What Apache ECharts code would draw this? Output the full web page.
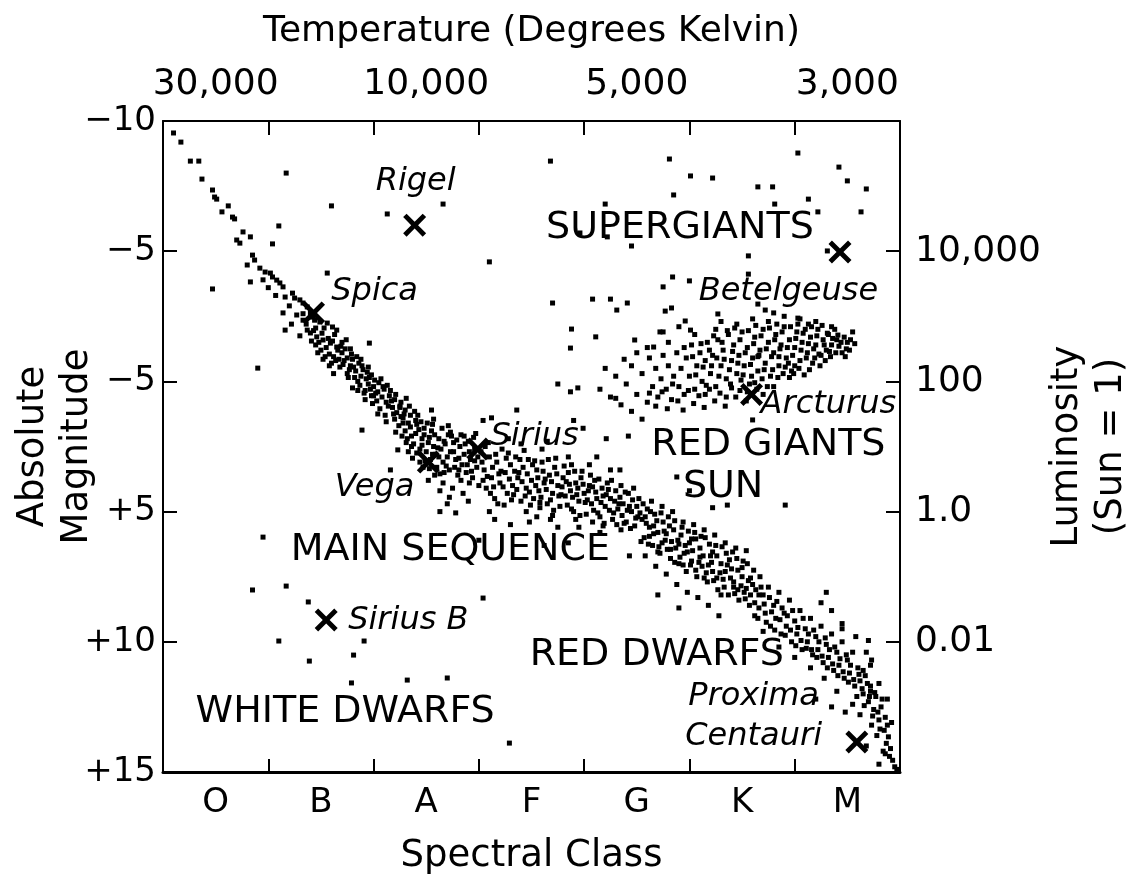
<!DOCTYPE html>
<html><head><meta charset="utf-8">
<script src="https://cdn.jsdelivr.net/npm/echarts/dist/echarts.min.js"></script>
<style>html,body{margin:0;padding:0;background:#fff}#chart{width:1133px;height:877px}</style>
</head><body><div id="chart"></div>
<script>
const spectralClasses = ['O','B','A','F','G','K','M'];
const temperatureLabels = ['30,000','','10,000','','5,000','','3,000'];
const magnitudeLabels = {'-10':'\u221210','-5':'\u22125','0':'\u22125','5':'+5','10':'+10','15':'+15'};
const luminosityLabels = {'-5':'10,000','0':'100','5':'1.0','10':'0.01'};

// [spectral position, absolute magnitude]
const upperMainSequence = [
[0.10,-9.54],[0.17,-9.19],[0.26,-8.46],[0.34,-8.46],[0.37,-7.77],[0.47,-7.35],[0.49,-7.08],[0.51,-7.00],
[0.62,-6.74],[0.56,-6.51],[0.66,-6.31],[0.68,-6.24],[0.76,-5.74],[0.70,-5.43],[0.73,-5.31],[0.83,-5.55],
[0.85,-4.85],[0.87,-4.66],[0.80,-4.47],[0.83,-3.82],[0.92,-4.35],[0.97,-4.20],[1.02,-4.16],[1.04,-4.01],
[1.08,-3.89],[1.11,-3.78],[1.14,-3.63],[1.16,-3.24],[1.23,-3.39],[1.25,-3.20],[1.30,-3.13],[1.33,-3.01],
[1.37,-2.86],[1.40,-2.63],[1.42,-2.47],[1.49,-2.28],[1.56,-2.24],[1.61,-2.09],[1.65,-1.97],[1.14,-2.63],
[1.16,-1.97],[1.37,-1.97],[1.40,-1.86],[1.46,-1.71],[1.52,-1.59],[1.59,-1.47],[1.65,-1.32],[1.20,-2.90],
[1.27,-2.55],[1.33,-2.35],[1.22,-2.20],[1.45,-2.05],[1.30,-1.75],[0.95,-3.90],[1.00,-3.60],[1.07,-3.30]
];
const midMainSequence = [
[1.45,-1.40],[1.50,-1.20],[1.55,-1.30],[1.58,-1.05],[1.62,-0.95],[1.66,-1.20],[1.70,-1.10],[1.72,-0.80],
[1.75,-0.90],[1.60,-0.70],[1.68,-0.55],[1.78,-0.60],[1.80,-0.85],[1.83,-0.40],[1.86,-0.70],[1.88,-0.20],
[1.90,-0.45],[1.93,-0.10],[1.95,0.10],[1.98,-0.25],[2.00,0.20],[2.02,0.45],[2.05,0.05],[2.08,0.60],
[2.10,0.30],[2.12,0.80],[2.15,0.55],[2.18,1.00],[2.20,0.70],[2.22,1.20],[2.25,0.95],[2.28,1.40],
[2.30,1.10],[2.33,1.60],[2.35,1.30],[1.75,-0.30],[1.85,0.00],[1.92,0.35],[2.03,0.75],[1.70,-1.50],
[1.78,-1.25],[1.52,-0.85],[1.95,-0.55],[2.13,0.15],[2.40,1.50],[1.62,-0.30],[1.80,0.25],[1.98,0.55],
[2.25,1.00],[2.28,1.60],[2.30,1.90],[2.32,2.20],[2.35,1.75],[2.38,2.40],[2.40,2.00],[2.42,1.30],
[2.44,2.60],[2.46,2.20],[2.48,1.80],[2.50,2.70],[2.52,2.35],[2.54,3.00],[2.55,1.90],[2.57,2.50],
[2.59,2.80],[2.60,3.30],[2.62,2.20],[2.64,2.60],[2.66,3.10],[2.68,2.40],[2.70,2.90],[2.72,3.40],
[2.74,2.10],[2.76,2.70],[2.78,3.00],[2.80,3.60],[2.82,2.50],[2.84,3.20],[2.86,2.80],[2.88,3.50],
[2.90,2.30],[2.92,3.00],[2.94,3.70],[2.96,2.60],[2.98,3.30],[3.00,4.00],[2.37,2.95],[2.47,3.30],
[2.58,3.60],[2.66,3.90],[2.75,4.10],[2.85,4.30],[2.45,1.55],[2.56,1.65],[2.65,1.80],[2.73,1.95],
[2.83,2.05],[2.20,1.45],[2.33,2.70],[2.27,2.10],[2.63,4.20],[2.72,4.45],[2.52,3.80],[2.78,5.05],
[2.63,5.00],[2.70,4.70],[2.90,4.60],[2.97,2.00],[2.55,1.10]
];
const midMainSequenceExtra = [
[1.33,-2.60],[1.36,-2.20],[1.41,-1.55],[1.44,-2.35],[1.47,-1.10],[1.51,-1.85],[1.54,-0.95],[1.57,-1.65],
[1.63,-1.80],[1.64,-0.80],[1.69,-1.35],[1.71,-0.65],[1.74,-1.60],[1.77,-0.45],[1.79,-1.05],[1.82,-0.15],
[1.84,-0.95],[1.87,0.15],[1.89,-0.60],[1.91,0.45],[1.94,-0.35],[1.97,0.30],[1.99,0.85],[2.01,-0.05],
[2.04,0.40],[2.06,1.05],[2.09,0.20],[2.11,1.30],[2.14,0.95],[2.16,0.35],[2.19,1.25],[2.21,0.50],
[2.24,1.70],[2.26,0.80],[2.29,1.25],[2.31,2.35],[2.34,0.95],[2.36,2.10],[2.39,1.15],[2.41,2.75],
[2.43,1.85],[2.46,2.45],[2.49,3.05],[2.51,1.60],[2.53,2.15],[2.56,2.80],[2.58,2.05],[2.61,2.55],
[2.63,3.55],[2.67,2.30],[2.69,3.25],[2.71,2.05],[2.73,2.70],[2.77,3.30],[2.79,2.25],[2.81,2.95],
[2.83,3.80],[2.87,2.40],[2.89,3.20],[2.91,2.70],[2.93,3.45],[2.95,2.15],[2.99,2.90],
[1.43,-1.95],[1.48,-1.50],[1.53,-2.05],[1.58,-0.60],[1.61,-1.55],[1.67,-0.85],[1.73,-1.25],[1.76,-0.15],
[1.81,-0.55],[1.85,0.35],[1.88,-0.85],[1.92,0.70],[1.96,-0.15],[2.00,0.55],[2.04,1.25],[2.07,-0.10],
[2.12,1.55],[2.17,0.75],[2.21,1.95],[2.26,1.35],[2.31,0.65],[2.36,2.50],[2.41,1.65],[2.44,3.10],
[2.48,2.05],[2.53,3.35],[2.57,1.45],[2.62,2.90],[2.67,3.50],[2.71,1.70],[2.76,2.35],[2.81,3.40],
[2.86,2.10],[2.91,3.90],[2.96,3.05]
];
const lowerMainSequence = [
[3.02,2.70],[3.05,3.40],[3.07,4.10],[3.10,2.90],[3.12,3.70],[3.15,4.50],[3.17,3.10],[3.20,3.90],
[3.22,2.60],[3.25,3.50],[3.27,4.30],[3.30,3.20],[3.32,4.00],[3.35,2.90],[3.37,3.70],[3.40,4.60],
[3.42,3.30],[3.45,4.10],[3.47,3.00],[3.50,3.80],[3.52,4.50],[3.55,3.40],[3.57,4.20],[3.60,3.10],
[3.62,3.90],[3.65,4.70],[3.67,3.60],[3.70,4.30],[3.72,3.30],[3.75,4.00],[3.77,4.80],[3.80,3.70],
[3.82,4.40],[3.85,3.50],[3.87,4.20],[3.90,5.00],[3.92,3.90],[3.95,4.60],[3.97,3.70],[4.00,4.30],
[4.02,5.10],[4.05,4.00],[4.07,4.70],[4.10,3.80],[4.12,4.50],[4.15,5.20],[4.17,4.10],[4.20,4.80],
[4.22,3.90],[4.25,4.50],[4.27,5.30],[4.30,4.20],[4.32,4.90],[4.35,4.00],[4.37,4.70],[4.40,5.40],
[4.42,4.30],[4.45,5.00],[4.47,4.10],[4.50,4.80],[3.15,5.30],[3.30,5.50],[3.55,5.20],[3.75,5.60],
[3.40,2.40],[3.60,2.60],[3.85,2.90],[4.05,3.20],[4.25,3.40],[3.10,5.00],[3.48,5.40],[3.95,5.60],
[4.15,5.80],[3.70,5.15],[4.08,5.40],[3.28,2.20],[3.65,2.30],[4.35,5.70],[3.58,4.85],[3.88,3.20],
[4.52,4.50],[4.55,5.30],[4.57,6.00],[4.60,4.90],[4.62,5.60],[4.65,6.30],[4.67,5.10],[4.70,5.80],
[4.72,6.60],[4.75,5.40],[4.77,6.10],[4.80,5.20],[4.82,6.80],[4.85,5.70],[4.87,6.40],[4.90,7.00],
[4.92,5.90],[4.95,6.60],[4.97,7.30],[5.00,6.20],[5.02,6.90],[5.05,5.80],[5.07,7.50],[5.10,6.40],
[5.12,7.10],[5.15,6.00],[5.17,7.70],[5.20,6.70],[5.22,7.30],[5.25,6.30],[5.27,8.00],[5.30,7.00],
[5.32,7.60],[5.35,6.60],[5.37,8.20],[5.40,7.20],[5.42,7.90],[5.45,6.80],[5.47,8.40],[5.50,7.50],
[5.52,8.10],[5.55,7.00],[5.57,8.60],[4.58,6.70],[4.68,7.10],[4.78,7.40],[4.88,7.80],[4.98,8.10],
[5.08,8.30],[5.18,8.60],[4.64,4.60],[4.74,4.80],[4.84,5.00],[4.94,5.40],[5.04,5.50],[5.14,5.70],
[5.24,5.90],[5.34,6.20],[5.44,6.40],[5.54,6.50],[4.70,8.20],[4.90,8.70],[5.28,9.00],[5.00,4.20]
];
const lowerMainSequenceExtra = [
[3.03,3.10],[3.06,2.50],[3.08,3.65],[3.11,4.30],[3.13,3.30],[3.16,2.80],[3.18,4.70],[3.21,3.45],
[3.23,4.05],[3.26,2.95],[3.29,3.75],[3.31,4.55],[3.34,3.45],[3.36,4.15],[3.39,3.00],[3.41,3.85],
[3.44,4.40],[3.46,3.55],[3.49,4.75],[3.51,3.20],[3.54,4.00],[3.56,3.70],[3.59,4.45],[3.61,3.45],
[3.64,4.15],[3.66,3.00],[3.69,3.85],[3.71,4.95],[3.74,3.55],[3.76,4.40],[3.79,4.05],[3.81,3.25],
[3.84,4.75],[3.86,3.95],[3.89,4.45],[3.91,3.45],[3.94,4.10],[3.96,5.15],[3.99,3.95],[4.01,4.65],
[4.04,4.20],[4.06,3.60],[4.09,4.95],[4.11,4.25],[4.14,3.75],[4.16,4.65],[4.19,5.45],[4.21,4.35],
[4.24,4.95],[4.26,3.80],[4.29,4.60],[4.31,5.50],[4.34,4.45],[4.36,5.15],[4.39,4.25],[4.41,4.95],
[4.44,5.65],[4.46,4.55],[4.49,5.25],[3.45,5.00],[3.68,5.30],[3.92,5.30],[4.18,5.55],
[4.53,5.05],[4.56,4.70],[4.59,5.45],[4.61,6.25],[4.63,5.00],[4.66,5.85],[4.69,5.35],[4.71,6.35],
[4.73,5.05],[4.76,5.75],[4.79,6.45],[4.81,5.55],[4.83,6.15],[4.86,5.35],[4.89,6.10],[4.91,6.75],
[4.93,5.60],[4.96,6.30],[4.99,5.75],[5.01,7.05],[5.03,6.50],[5.06,6.05],[5.09,6.95],[5.11,5.95],
[5.13,6.70],[5.16,7.35],[5.19,6.25],[5.21,6.95],[5.23,7.65],[5.26,6.70],[5.29,7.35],[5.31,6.35],
[5.33,7.90],[5.36,7.05],[5.39,7.55],[5.41,6.55],[5.43,8.15],[5.46,7.25],[5.49,7.85],[5.51,6.90],
[5.53,8.35],[5.56,7.65],[5.58,8.20],
[3.04,3.80],[3.09,2.35],[3.14,4.05],[3.19,3.55],[3.24,4.75],[3.28,2.75],[3.33,4.35],[3.38,3.50],
[3.43,2.65],[3.48,4.25],[3.53,3.05],[3.58,4.65],[3.63,3.75],[3.68,4.55],[3.73,2.95],[3.78,4.35],
[3.83,3.85],[3.88,4.90],[3.93,4.35],[3.98,3.45],[4.03,4.55],[4.08,4.05],[4.13,5.05],[4.18,4.40],
[4.23,4.15],[4.28,5.05],[4.33,4.70],[4.38,5.45],[4.43,4.80],[4.48,5.55],
[4.51,5.20],[4.54,6.15],[4.58,5.20],[4.62,5.95],[4.66,5.55],[4.70,6.55],[4.74,6.20],[4.78,5.85],
[4.82,6.45],[4.86,6.95],[4.90,6.25],[4.94,7.05],[4.98,6.55],[5.02,6.05],[5.06,7.25],[5.10,6.75],
[5.14,7.55],[5.18,7.05],[5.22,6.55],[5.26,7.55],[5.30,8.20],[5.34,7.30],[5.38,6.85],[5.42,7.70],
[5.46,8.00],[5.50,7.15],[5.54,7.95],[5.58,7.55],[5.62,9.00],[5.66,8.20]
];
const redDwarfs = [
[5.60,7.80],[5.62,8.50],[5.65,9.10],[5.67,7.50],[5.70,8.20],[5.72,8.90],[5.75,7.90],[5.77,9.40],
[5.80,8.60],[5.82,9.10],[5.85,8.10],[5.87,9.70],[5.90,8.90],[5.92,9.40],[5.95,8.40],[5.97,10.00],
[6.00,9.20],[6.02,9.70],[6.05,8.80],[6.07,10.30],[6.10,9.50],[6.12,10.00],[6.15,9.10],[6.17,10.50],
[6.20,9.80],[6.22,10.30],[6.25,9.40],[6.27,10.80],[6.30,10.10],[6.32,10.60],[6.35,9.70],[6.37,11.10],
[6.40,10.40],[6.42,10.90],[6.45,10.00],[6.47,11.40],[6.50,10.70],[6.52,11.20],[6.55,10.40],[6.57,11.70],
[6.60,11.00],[6.62,11.50],[6.65,12.00],[6.67,11.30],[6.70,12.30],[6.72,11.70],[6.75,12.60],[6.77,12.10],
[6.80,13.00],[6.82,12.50],[6.85,13.40],[6.87,13.90],[6.90,14.40],[6.84,14.20],[6.78,13.60],[6.73,13.20],
[6.68,14.00],[6.80,14.70],[6.92,13.10],[6.95,14.80],[5.85,10.20],[6.00,10.60],[6.15,11.00],[6.28,11.40],
[6.40,11.90],[6.55,12.40],[6.62,12.80],[5.70,9.60],[6.35,8.80],[6.45,9.30],[6.58,9.80],[6.68,10.40],
[6.72,10.90],[6.80,11.60],[6.88,12.20],[6.35,12.50],[6.48,12.70],[6.25,8.50],[6.20,12.20],[6.30,8.10],
[6.45,9.50],[6.70,9.95],[6.73,10.70],[6.65,11.10],[6.72,11.90],[6.88,13.20],[6.86,14.30],
[5.61,7.25],[5.63,8.00],[5.66,8.70],[5.68,7.90],[5.71,8.55],[5.73,9.25],[5.76,8.30],[5.78,8.85],
[5.81,9.55],[5.83,8.45],[5.86,9.15],[5.88,8.70],[5.91,9.75],[5.93,9.00],[5.96,9.55],[5.98,8.80],
[6.01,10.15],[6.03,9.45],[6.06,9.95],[6.08,9.10],[6.11,10.25],[6.13,9.70],[6.16,10.30],[6.18,9.55],
[6.21,10.60],[6.23,10.00],[6.26,10.55],[6.29,9.85],[6.31,11.00],[6.33,10.30],[6.36,10.85],[6.38,10.20],
[6.41,11.30],[6.43,10.65],[6.46,11.15],[6.49,10.50],[6.51,11.55],[6.53,10.90],[6.56,11.45],[6.59,12.10],
[6.61,11.25],[6.64,11.80],[6.66,12.45],[6.69,11.60],[6.71,12.10],[6.74,12.85],[6.76,11.95],[6.79,12.70],
[6.81,13.35],[6.83,12.20],[6.86,12.90],[6.89,13.65],[6.91,14.10],[6.93,14.55],[6.97,14.90]
];
const giants = [
[4.15,0.30],[4.20,-0.50],[4.25,0.60],[4.30,-0.20],[4.35,0.90],[4.40,0.10],[4.45,-0.60],[4.50,0.50],
[4.55,-0.30],[4.60,0.80],[4.62,-0.90],[4.65,0.20],[4.68,-0.50],[4.70,0.60],[4.73,-0.10],[4.75,-1.00],
[4.78,0.30],[4.80,-0.60],[4.83,0.70],[4.85,-0.20],[4.88,-1.10],[4.90,0.20],[4.92,-0.50],[4.95,0.50],
[4.97,-0.90],[5.00,-0.20],[5.02,-1.40],[5.05,0.30],[5.07,-0.60],[5.10,-1.10],[5.12,0.00],[5.15,-0.80],
[5.17,-1.50],[5.20,-0.30],[5.22,-1.00],[5.25,0.20],[5.27,-1.60],[5.30,-0.60],[5.32,-1.20],[5.35,-0.10],
[5.37,-1.80],[5.40,-0.80],[5.42,-1.40],[5.45,-0.30],[5.47,-1.00],[5.50,-1.90],[5.52,-0.60],[5.55,-1.30],
[5.57,0.10],[5.60,-0.90],[5.62,-1.70],[5.65,-0.40],[5.67,-1.20],[5.70,-2.00],[5.72,-0.70],[5.75,-1.50],
[5.77,-0.20],[5.80,-1.10],[5.82,-1.80],[5.85,-0.60],[5.87,-1.40],[5.90,-2.10],[5.92,-0.90],[5.95,-1.60],
[5.97,-0.40],[6.00,-1.30],[6.02,-1.90],[6.05,-0.80],[6.07,-1.50],[6.10,-2.00],[6.12,-1.10],[6.15,-1.70],
[6.17,-0.70],[6.20,-1.40],[6.22,-2.00],[6.25,-1.00],[6.27,-1.60],[6.30,-1.20],[6.32,-1.80],[6.35,-1.40],
[6.40,-1.60],[6.45,-1.10],[6.50,-1.50],[6.55,-1.90],[6.52,-1.20],[5.30,-2.30],[5.45,-2.20],[5.60,-2.40],
[5.75,-2.30],[5.90,-2.50],[6.05,-2.40],[6.20,-2.30],[6.35,-2.10],[5.15,0.50],[5.35,0.60],[5.55,0.40],
[5.80,0.20],[5.25,-2.00],[5.65,-0.95],[5.85,-0.95],[6.00,-0.60],[5.05,-1.80],[4.95,-1.30],[4.80,-1.50],
[4.60,-1.30],[4.72,-1.90],[4.90,-2.10],[3.75,0.10],[3.87,0.40],[3.94,0.25],[3.36,1.10],[3.12,1.40],
[3.04,1.50],[3.90,1.50],[3.99,1.80],[4.21,2.20],[4.42,2.10],[4.12,2.90],[4.34,3.40],[4.88,3.67],
[5.36,4.75],[5.22,4.85],[5.91,4.75],[5.60,1.48],[3.85,6.20],[3.62,6.30],[4.43,6.70],[3.00,6.10],
[5.03,-0.95],[5.06,-0.25],[5.11,-1.45],[5.13,-0.55],[5.16,0.15],[5.19,-1.20],[5.21,-0.60],[5.23,-1.75],
[5.26,-0.90],[5.28,-0.20],[5.31,-1.50],[5.33,-0.85],[5.36,-1.95],[5.38,-0.45],[5.41,-1.15],[5.43,-2.05],
[5.46,-0.70],[5.48,-1.60],[5.51,-0.25],[5.53,-1.10],[5.56,-1.95],[5.58,-0.65],[5.61,-1.45],[5.63,-2.15],
[5.66,-1.00],[5.68,-1.75],[5.71,-0.45],[5.73,-1.25],[5.76,-2.05],[5.78,-0.95],[5.81,-1.60],[5.83,-2.20],
[5.86,-1.25],[5.88,-1.90],[5.91,-0.55],[5.93,-1.30],[5.96,-2.10],[5.98,-1.00],[6.01,-1.65],[6.03,-2.20],
[6.06,-1.20],[6.08,-1.85],[6.11,-0.90],[6.13,-1.45],[6.16,-2.10],[6.18,-1.25],[6.21,-1.75],[6.23,-1.05],
[6.26,-2.15],[6.28,-1.40],[6.31,-1.85],[6.33,-1.15],[6.36,-1.65],[6.38,-2.00],[6.42,-1.35],[6.47,-1.70],
[6.49,-1.25],[6.53,-1.60],[6.57,-1.45],[5.40,0.25],[5.62,0.05],[5.70,0.50],[5.48,0.35],[5.95,-0.15],
[4.62,0.45],[4.68,0.95],[4.74,0.40],[4.79,1.05],[4.84,0.10],[4.89,0.75],[4.94,1.10],[4.99,0.35],
[5.04,0.85],[5.09,0.55],[5.14,1.00],[5.19,0.30],[5.24,0.75],[5.29,0.45],[5.34,0.95],[5.39,0.10],
[5.44,0.60],[5.49,-0.05],[5.54,0.75],[5.59,-0.20],[5.64,0.30],[5.69,-0.10],[5.74,0.20],[5.79,-0.45],
[5.84,-0.15],[5.89,-0.30],[5.94,-0.70],[5.99,-0.30],[6.04,-0.50],[6.09,-0.25],[6.14,-0.45],[6.19,-0.90],
[6.24,-0.60],[6.29,-0.80],[6.34,-0.95],[6.39,-1.10],[6.44,-1.50],[6.48,-0.95],[4.30,0.65],[4.45,1.15],
[4.55,1.45],[4.38,-0.85],[4.50,-1.10]
];
const supergiants = [
[3.68,-8.46],[2.66,-6.81],[2.13,-6.43],[3.10,-4.59],[4.20,-6.81],[3.96,-5.70],[4.22,-5.55],[4.45,-5.20],
[4.81,-8.54],[4.85,-7.16],[4.84,-4.01],[4.75,-3.63],[3.70,-3.01],[4.08,-3.16],[4.25,-3.16],[4.31,-2.74],
[4.41,-3.01],[4.77,-2.70],[4.83,-2.82],[3.88,-2.01],[4.11,-1.71],[4.48,-1.59],[4.75,-1.90],[4.66,-1.32],
[3.87,-1.28],[5.01,-7.89],[5.22,-7.81],[5.65,-7.47],[5.79,-7.47],[5.81,-6.81],[6.13,-7.00],[6.22,-6.51],
[6.03,-8.77],[6.42,-8.23],[6.50,-7.70],[6.68,-7.39],[6.63,-6.51],[6.31,-5.01],[5.56,-4.82],[5.56,-4.12],
[5.00,-3.86],[4.96,-2.32],[5.01,-1.97],[5.27,-2.59],[5.65,-2.97],[5.72,-2.74],[5.80,-2.63],[6.03,-2.43],
[6.13,-2.20],[6.41,-1.78],[1.17,-8.00],[1.60,-6.74],[1.10,-5.97],[1.04,-5.28],[0.47,-3.55],[1.56,-4.16],
[1.96,-1.47],[0.90,-0.51],[1.89,1.87],[2.23,2.63],[2.16,3.40]
];
const whiteDwarfs = [
[0.95,5.98],[0.85,8.01],[1.17,7.86],[1.38,8.47],[1.10,9.97],[1.91,9.97],[1.39,10.74],[1.81,10.51],
[1.79,11.58],[3.04,8.32],[2.32,11.47],[2.70,11.39],[3.29,13.89]
];
const namedStars = [
{name:'Rigel', value:[2.39,-6.00]},
{name:'Betelgeuse', value:[6.43,-4.97]},
{name:'Spica', value:[1.43,-2.63]},
{name:'Arcturus', value:[5.59,0.50]},
{name:'Sirius', value:[2.99,2.60]},
{name:'Vega', value:[2.52,3.10]},
{name:'Sirius B', value:[1.55,9.16]},
{name:'Proxima Centauri', value:[6.59,13.85]}
];
const starNameLabels = [
{name:'Rigel', value:[2.40,-7.66]},
{name:'Spica', value:[2.01,-3.43]},
{name:'Betelgeuse', value:[5.94,-3.43]},
{name:'Arcturus', value:[6.32,0.91]},
{name:'Sirius', value:[3.53,2.14]},
{name:'Vega', value:[2.01,4.09]},
{name:'Sirius B', value:[2.33,9.20]},
{name:'Proxima', value:[5.61,12.12]},
{name:'Centauri', value:[5.61,13.66]}
];
const regionLabels = [
{name:'SUPERGIANTS', value:[4.91,-5.89]},
{name:'RED GIANTS', value:[5.75,2.44]},
{name:'SUN', value:[5.32,4.06]},
{name:'MAIN SEQUENCE', value:[2.73,6.48]},
{name:'RED DWARFS', value:[4.69,10.51]},
{name:'WHITE DWARFS', value:[1.73,12.70]}
];

const FONT = 'DejaVu Sans';
const INK = '#000';
const allStars = [].concat(upperMainSequence, midMainSequence, midMainSequenceExtra, lowerMainSequence,
  lowerMainSequenceExtra, redDwarfs, giants, supergiants, whiteDwarfs);
const xPath = 'path://M3,0 L10,7 L17,0 L20,3 L13,10 L20,17 L17,20 L10,13 L3,20 L0,17 L7,10 L0,3 Z';

const chart = echarts.init(document.getElementById('chart'), null, {renderer:'canvas'});
chart.setOption({
  backgroundColor:'#fff',
  animation:false,
  grid:{left:163, right:233, top:121, bottom:105, containLabel:false, outerBoundsMode:'none'},
  xAxis:[
    {type:'value', min:0, max:7, show:false},
    {type:'category', data:spectralClasses, position:'bottom', boundaryGap:true,
     axisLine:{show:true, onZero:false, lineStyle:{color:INK, width:3}},
     axisTick:{show:true, inside:true, length:13, lineStyle:{color:INK, width:2}},
     axisLabel:{color:INK, fontSize:34, fontFamily:FONT, margin:14},
     name:'Spectral Class', nameLocation:'middle', nameGap:66, nameMoveOverlap:false,
     nameTextStyle:{color:INK, fontSize:37, fontFamily:FONT},
     splitLine:{show:false}},
    {type:'category', data:temperatureLabels, position:'top', boundaryGap:true,
     axisLine:{show:true, onZero:false, lineStyle:{color:INK, width:2}},
     axisTick:{show:true, inside:true, length:14, lineStyle:{color:INK, width:2}},
     axisLabel:{color:INK, fontSize:36, fontFamily:FONT, margin:18, interval:0},
     name:'Temperature (Degrees Kelvin)', nameLocation:'middle', nameGap:71, nameMoveOverlap:false,
     nameTextStyle:{color:INK, fontSize:36, fontFamily:FONT},
     splitLine:{show:false}}
  ],
  yAxis:[
    {type:'value', min:-10, max:15, interval:5, inverse:true, position:'left',
     axisLine:{show:true, onZero:false, lineStyle:{color:INK, width:2}},
     axisTick:{show:true, inside:true, length:14, lineStyle:{color:INK, width:2}},
     axisLabel:{color:INK, fontSize:34, fontFamily:FONT, margin:7,
       formatter:v=>magnitudeLabels[String(v)] || ''},
     splitLine:{show:false},
     name:'Absolute\nMagnitude', nameLocation:'middle', nameRotate:90, nameGap:64, nameMoveOverlap:false,
     nameTextStyle:{color:INK, fontSize:37, fontFamily:FONT, lineHeight:44}},
    {type:'value', min:-10, max:15, interval:5, inverse:true, position:'right',
     axisLine:{show:true, onZero:false, lineStyle:{color:INK, width:2}},
     axisTick:{show:true, inside:true, length:14, lineStyle:{color:INK, width:2}},
     axisLabel:{color:INK, fontSize:36, fontFamily:FONT, margin:15,
       formatter:v=>luminosityLabels[String(v)] || ''},
     splitLine:{show:false},
     name:'Luminosity\n(Sun = 1)', nameLocation:'middle', nameRotate:90, nameGap:145, nameMoveOverlap:false,
     nameTextStyle:{color:INK, fontSize:37, fontFamily:FONT, lineHeight:44}}
  ],
  series:[
    {type:'scatter', name:'stars', xAxisIndex:0, yAxisIndex:0, data:allStars,
     symbol:'rect', symbolSize:5, itemStyle:{color:INK, opacity:1}, z:2},
    {type:'scatter', name:'named', xAxisIndex:0, yAxisIndex:0, data:namedStars,
     symbol:xPath, symbolSize:23, itemStyle:{color:INK, opacity:1}, z:3},
    {type:'scatter', name:'starLabels', xAxisIndex:0, yAxisIndex:0, data:starNameLabels,
     symbolSize:1, itemStyle:{color:'rgba(0,0,0,0)', opacity:1}, z:4, silent:true,
     label:{show:true, position:'inside', formatter:p=>p.name, color:INK, opacity:1,
       fontSize:32, fontStyle:'italic', fontFamily:FONT, textBorderWidth:0}},
    {type:'scatter', name:'regionLabels', xAxisIndex:0, yAxisIndex:0, data:regionLabels,
     symbolSize:1, itemStyle:{color:'rgba(0,0,0,0)', opacity:1}, z:4, silent:true,
     label:{show:true, position:'inside', formatter:p=>p.name, color:INK, opacity:1,
       fontSize:38, fontFamily:FONT, textBorderWidth:0}}
  ]
});
</script></body></html>
